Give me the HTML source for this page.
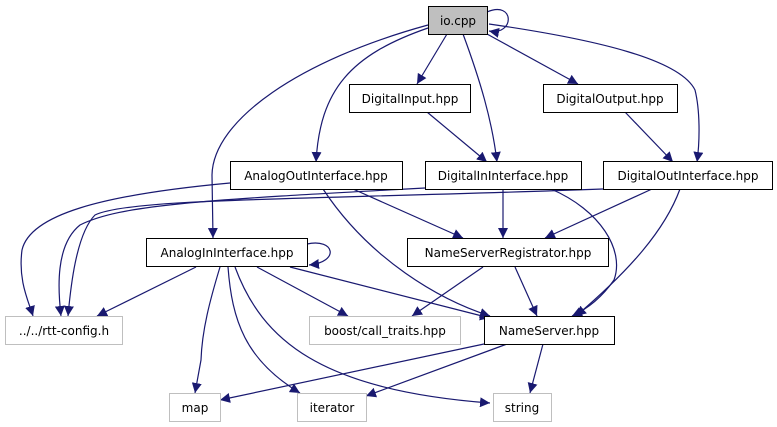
<!DOCTYPE html>
<html><head><meta charset="utf-8"><style>
html,body{margin:0;padding:0;background:#fff;}
svg{display:block;}
text{font-family:"DejaVu Sans","Liberation Sans",sans-serif;font-size:12px;fill:#000;}
</style></head><body>
<svg width="777" height="427" viewBox="0 0 777 427" xmlns="http://www.w3.org/2000/svg">
<defs><marker id="a" viewBox="0 0 10 10" refX="10" refY="5" markerWidth="10" markerHeight="10" markerUnits="userSpaceOnUse" orient="auto"><path d="M0,0 L10,5 L0,10 z" fill="#191970"/></marker></defs>
<g fill="none" stroke="#191970" stroke-width="1.2" marker-end="url(#a)">
<path d="M487,12 C515,0 515,36 489,31"/>
<path d="M428,25 C300,60 213,120 212,175 L213,238"/>
<path d="M428,28 C350,55 320,90 316,162"/>
<path d="M447,34 L417,84"/>
<path d="M463,34 C480,80 492,120 497,162"/>
<path d="M487,34 L578,84"/>
<path d="M489,24 C600,40 680,60 695,90 C700,110 700,140 697,162"/>
<path d="M427,112 L487,162"/>
<path d="M625,112 L673,162"/>
<path d="M230,183 C100,195 30,215 22,250 C18,280 28,300 33,316"/>
<path d="M353,189 L463,238"/>
<path d="M323,189 C370,260 440,300 490,316"/>
<path d="M425,188 C200,200 120,205 80,225 C55,245 58,290 61,316"/>
<path d="M503,189 L503,238"/>
<path d="M551,189 C600,210 625,250 614,280 C600,300 585,310 572,316"/>
<path d="M603,189 C300,200 130,198 95,215 C75,235 70,295 68,316"/>
<path d="M652,189 L545,238"/>
<path d="M680,189 C665,230 630,270 576,316"/>
<path d="M307,244 C335,238 340,262 309,265"/>
<path d="M196,267 L97,316"/>
<path d="M220,267 C210,300 202,330 201,360 L195,393"/>
<path d="M228,267 C232,320 245,360 300,393"/>
<path d="M235,267 C262,340 320,390 490,403"/>
<path d="M257,267 L348,316"/>
<path d="M290,267 L490,318"/>
<path d="M483,267 L412,316"/>
<path d="M515,267 L537,316"/>
<path d="M484,344 L220,400"/>
<path d="M507,344 L366,396"/>
<path d="M543,344 L530,393"/>
</g>
<g stroke-width="1">
<rect x="428.5" y="6.5" width="59" height="28" fill="#bfbfbf" stroke="#000"/>
<rect x="349.5" y="84.5" width="121" height="28" fill="#fff" stroke="#000"/>
<rect x="543.5" y="84.5" width="134" height="28" fill="#fff" stroke="#000"/>
<rect x="230.5" y="161.5" width="172" height="28" fill="#fff" stroke="#000"/>
<rect x="425.5" y="161.5" width="156" height="28" fill="#fff" stroke="#000"/>
<rect x="603.5" y="161.5" width="169" height="28" fill="#fff" stroke="#000"/>
<rect x="146.5" y="238.5" width="161" height="28" fill="#fff" stroke="#000"/>
<rect x="407.5" y="238.5" width="201" height="28" fill="#fff" stroke="#000"/>
<rect x="5.5" y="316.5" width="117" height="28" fill="#fff" stroke="#bfbfbf"/>
<rect x="309.5" y="316.5" width="151" height="28" fill="#fff" stroke="#bfbfbf"/>
<rect x="484.5" y="316.5" width="130" height="28" fill="#fff" stroke="#000"/>
<rect x="169.5" y="393.5" width="51" height="28" fill="#fff" stroke="#bfbfbf"/>
<rect x="297.5" y="393.5" width="69" height="28" fill="#fff" stroke="#bfbfbf"/>
<rect x="493.5" y="393.5" width="58" height="28" fill="#fff" stroke="#bfbfbf"/>
</g>
<g text-anchor="middle">
<text x="458" y="25">io.cpp</text>
<text x="410" y="103">DigitalInput.hpp</text>
<text x="610" y="103">DigitalOutput.hpp</text>
<text x="316" y="180">AnalogOutInterface.hpp</text>
<text x="503" y="180">DigitalInInterface.hpp</text>
<text x="688" y="180">DigitalOutInterface.hpp</text>
<text x="227" y="257">AnalogInInterface.hpp</text>
<text x="508" y="257">NameServerRegistrator.hpp</text>
<text x="64" y="335">../../rtt-config.h</text>
<text x="385" y="335">boost/call_traits.hpp</text>
<text x="549" y="335">NameServer.hpp</text>
<text x="195" y="412">map</text>
<text x="332" y="412">iterator</text>
<text x="522" y="412">string</text>
</g>
</svg>
</body></html>
